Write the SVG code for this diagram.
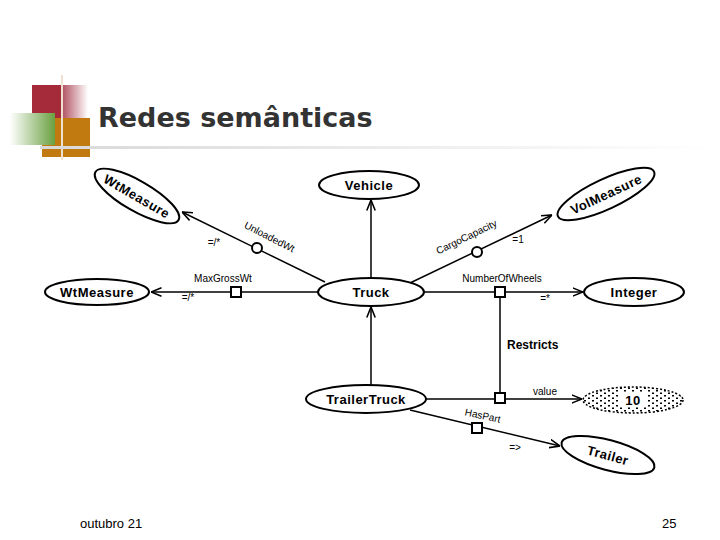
<svg xmlns="http://www.w3.org/2000/svg" width="720" height="540" viewBox="0 0 720 540">
<defs>
<linearGradient id="gr" x1="0" y1="0" x2="1" y2="0"><stop offset="0" stop-color="#ffffff"/><stop offset="1" stop-color="#6aa040"/></linearGradient>
<linearGradient id="rg" x1="0" y1="0" x2="1" y2="0"><stop offset="0" stop-color="#b05060"/><stop offset="1" stop-color="#ffffff"/></linearGradient>
<linearGradient id="hl" x1="0" y1="0" x2="1" y2="0"><stop offset="0" stop-color="#d8d8d8"/><stop offset="1" stop-color="#ffffff"/></linearGradient>
<pattern id="dots" width="8" height="5" patternUnits="userSpaceOnUse"><rect width="8" height="5" fill="#fff"/><rect x="0" y="0" width="2" height="1.5" fill="#000"/><rect x="4" y="2.5" width="2" height="1.5" fill="#000"/></pattern>
<marker id="ar" viewBox="0 0 10 10" refX="10" refY="5" markerWidth="7" markerHeight="7" orient="auto"><path d="M0,1 L10,5 L0,9" fill="none" stroke="#000" stroke-width="1.5"/></marker>
</defs>
<style>
.n{fill:#fff;stroke:#000;stroke-width:2}
.t{font-family:"Liberation Sans",Arial,sans-serif;font-weight:bold;font-size:13px;text-anchor:middle;letter-spacing:0.5px}
.l{font-family:"Liberation Sans",Arial,sans-serif;font-size:10px;text-anchor:middle}
.c{stroke:#000;stroke-width:1.5;fill:none}
.b{fill:#fff;stroke:#000;stroke-width:2}
</style>
<rect width="720" height="540" fill="#fff"/>
<g id="logo">
<rect x="32" y="85" width="30" height="33" fill="#a52a3a"/>
<rect x="62" y="85" width="26" height="33" fill="url(#rg)"/>
<rect x="42" y="118" width="48" height="39" fill="#c07a10"/>
<rect x="10" y="113" width="45" height="32" fill="url(#gr)"/>
<line x1="62" y1="75" x2="62" y2="160" stroke="#f0e0d0" stroke-width="2"/>
<rect x="40" y="146" width="680" height="3" fill="url(#hl)"/>
</g>
<text x="98" y="127" font-family="DejaVu Sans,Verdana,sans-serif" font-weight="bold" font-size="27" fill="#333">Redes semânticas</text>
<g id="connectors">
<line class="c" x1="371" y1="278" x2="371" y2="200" marker-end="url(#ar)"/>
<line class="c" x1="371" y1="385" x2="371" y2="307" marker-end="url(#ar)"/>
<line class="c" x1="325" y1="282" x2="182" y2="212" marker-end="url(#ar)"/>
<circle class="b" cx="257" cy="248" r="5"/>
<line class="c" x1="318" y1="292" x2="151" y2="292" marker-end="url(#ar)"/>
<rect class="b" x="231" y="287" width="10" height="10"/>
<line class="c" x1="410" y1="283" x2="552" y2="215" marker-end="url(#ar)"/>
<circle class="b" cx="477" cy="252" r="5"/>
<line class="c" x1="424" y1="292" x2="583" y2="292" marker-end="url(#ar)"/>
<line class="c" x1="500" y1="298" x2="500" y2="393"/>
<rect class="b" x="495" y="287" width="10" height="10"/>
<line class="c" x1="426" y1="399" x2="582" y2="399" marker-end="url(#ar)"/>
<rect class="b" x="495" y="393" width="10" height="10"/>
<line class="c" x1="410" y1="410" x2="560" y2="446" marker-end="url(#ar)"/>
<rect class="b" x="472" y="423" width="10" height="10"/>
<text class="l" transform="translate(268,240) rotate(27)">UnloadedWt</text>
<text class="l" x="214" y="246">=/*</text>
<text class="l" x="223" y="282">MaxGrossWt</text>
<text class="l" x="188" y="301">=/*</text>
<text class="l" transform="translate(468,240) rotate(-26)">CargoCapacity</text>
<text class="l" x="518" y="243">=1</text>
<text class="l" x="502" y="282">NumberOfWheels</text>
<text class="l" x="545" y="302">=*</text>
<text class="l" x="545" y="395">value</text>
<text class="l" transform="translate(482,419) rotate(12)">HasPart</text>
<text class="l" x="515" y="451">=&gt;</text>
<text x="507" y="349" font-family="Liberation Sans,Arial,sans-serif" font-weight="bold" font-size="12">Restricts</text>
</g>
<g id="vehicle"><ellipse class="n" cx="369" cy="185" rx="50" ry="14"/><text class="t" x="369" y="190">Vehicle</text></g>
<g id="wtmeasure1"><g transform="translate(137,196) rotate(30)"><ellipse class="n" rx="48" ry="15"/><text class="t" y="5">WtMeasure</text></g></g>
<g id="wtmeasure2"><ellipse class="n" cx="97" cy="292" rx="52" ry="13"/><text class="t" x="97" y="297">WtMeasure</text></g>
<g id="truck"><ellipse class="n" cx="371" cy="292" rx="53" ry="14"/><text class="t" x="371" y="297">Truck</text></g>
<g id="volmeasure"><g transform="translate(606,194) rotate(-25)"><ellipse class="n" rx="53" ry="15"/><text class="t" y="5">VolMeasure</text></g></g>
<g id="integer"><ellipse class="n" cx="634" cy="292" rx="50" ry="14"/><text class="t" x="634" y="297">Integer</text></g>
<g id="trailertruck"><ellipse class="n" cx="366" cy="399" rx="60" ry="14"/><text class="t" x="366" y="404">TrailerTruck</text></g>
<g id="ten"><ellipse cx="633" cy="400" rx="50" ry="13" fill="url(#dots)" stroke="#000" stroke-width="1.5" stroke-dasharray="2 2"/><rect x="620" y="392" width="26" height="15" fill="#fff"/><text class="t" x="633" y="405" font-size="15">10</text></g>
<g id="trailer"><g transform="translate(608,455) rotate(15)"><ellipse class="n" rx="48" ry="15"/><text class="t" y="5">Trailer</text></g></g>
<text x="80" y="528" font-family="Liberation Sans,Arial,sans-serif" font-size="13">outubro 21</text>
<text x="662" y="528" font-family="Liberation Sans,Arial,sans-serif" font-size="13">25</text>
</svg>
